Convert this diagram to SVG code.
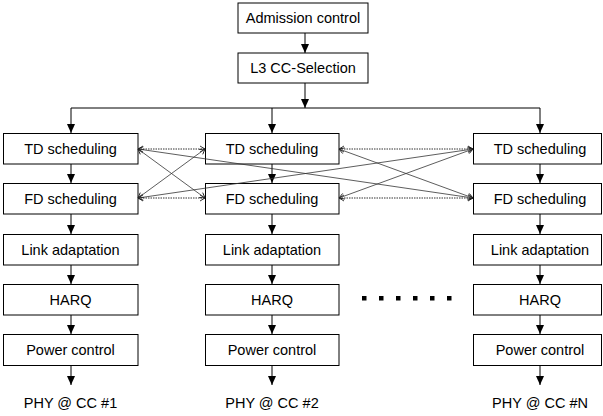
<svg xmlns="http://www.w3.org/2000/svg" width="603" height="416" viewBox="0 0 603 416">
<style>
.box rect{fill:#fff;stroke:#000;stroke-width:1}
text{font-family:"Liberation Sans",Arial,sans-serif;font-size:14.5px;fill:#000;text-anchor:middle}
.flow{stroke:#000;stroke-width:1;fill:none;marker-end:url(#ah)}
.x{stroke:#333;stroke-width:0.8;fill:none;marker-start:url(#ov);marker-end:url(#ov)}
.h{stroke-dasharray:1.5,1;stroke:#333;stroke-width:1}
</style>
<defs>
<marker id="ah" markerWidth="9" markerHeight="9" refX="9" refY="4.5" orient="auto" markerUnits="userSpaceOnUse"><path d="M0,0.5 L9,4.5 L0,8.5 Z" fill="#000"/></marker>
<marker id="ov" markerWidth="8" markerHeight="8" refX="6" refY="4" orient="auto-start-reverse" markerUnits="userSpaceOnUse"><path d="M1,1 L6,4 L1,7" fill="none" stroke="#222" stroke-width="0.9"/></marker>
</defs>
<g id="connectors">
<line class="flow" x1="305" y1="33" x2="305" y2="53"/>
<line class="flow" x1="305" y1="83" x2="305" y2="108"/>
<polyline points="71,108 540,108" fill="none" stroke="#000" stroke-width="1"/>
<line class="flow" x1="71" y1="108" x2="71" y2="133"/>
<line class="flow" x1="272" y1="108" x2="272" y2="133"/>
<line class="flow" x1="540" y1="108" x2="540" y2="133"/>
<g id="col-arrows">
<line class="flow" x1="71" y1="164" x2="71" y2="183"/>
<line class="flow" x1="71" y1="214" x2="71" y2="234"/>
<line class="flow" x1="71" y1="265" x2="71" y2="284"/>
<line class="flow" x1="71" y1="315" x2="71" y2="334"/>
<line class="flow" x1="71" y1="366" x2="71" y2="385"/>
<line class="flow" x1="272" y1="164" x2="272" y2="183"/>
<line class="flow" x1="272" y1="214" x2="272" y2="234"/>
<line class="flow" x1="272" y1="265" x2="272" y2="284"/>
<line class="flow" x1="272" y1="315" x2="272" y2="334"/>
<line class="flow" x1="272" y1="366" x2="272" y2="385"/>
<line class="flow" x1="540" y1="164" x2="540" y2="183"/>
<line class="flow" x1="540" y1="214" x2="540" y2="234"/>
<line class="flow" x1="540" y1="265" x2="540" y2="284"/>
<line class="flow" x1="540" y1="315" x2="540" y2="334"/>
<line class="flow" x1="540" y1="366" x2="540" y2="385"/>
</g>
</g>
<g id="boxes">
<g id="admission" class="box"><rect x="238" y="3" width="130" height="30"/><text x="303" y="23">Admission control</text></g>
<g id="l3" class="box"><rect x="238" y="53" width="130" height="30"/><text x="303" y="73">L3 CC-Selection</text></g>

<g id="td1" class="box"><rect x="3.5" y="133.5" width="134.5" height="30.5"/><text x="70.5" y="154">TD scheduling</text></g>
<g id="fd1" class="box"><rect x="3.5" y="183.5" width="134.5" height="30.5"/><text x="70.5" y="204">FD scheduling</text></g>
<g id="la1" class="box"><rect x="3.5" y="234.5" width="134.5" height="30.5"/><text x="70.5" y="255">Link adaptation</text></g>
<g id="harq1" class="box"><rect x="3.5" y="284.5" width="134.5" height="30.5"/><text x="70.5" y="305">HARQ</text></g>
<g id="pc1" class="box"><rect x="3.5" y="334.5" width="134.5" height="31"/><text x="70.5" y="355">Power control</text></g>

<g id="td2" class="box"><rect x="205.5" y="133.5" width="133.5" height="30.5"/><text x="272" y="154">TD scheduling</text></g>
<g id="fd2" class="box"><rect x="205.5" y="183.5" width="133.5" height="30.5"/><text x="272" y="204">FD scheduling</text></g>
<g id="la2" class="box"><rect x="205.5" y="234.5" width="133.5" height="30.5"/><text x="272" y="255">Link adaptation</text></g>
<g id="harq2" class="box"><rect x="205.5" y="284.5" width="133.5" height="30.5"/><text x="272" y="305">HARQ</text></g>
<g id="pc2" class="box"><rect x="205.5" y="334.5" width="133.5" height="31"/><text x="272" y="355">Power control</text></g>

<g id="tdn" class="box"><rect x="473.5" y="133.5" width="128" height="30.5"/><text x="540" y="154">TD scheduling</text></g>
<g id="fdn" class="box"><rect x="473.5" y="183.5" width="128" height="30.5"/><text x="540" y="204">FD scheduling</text></g>
<g id="lan" class="box"><rect x="473.5" y="234.5" width="128" height="30.5"/><text x="540" y="255">Link adaptation</text></g>
<g id="harqn" class="box"><rect x="473.5" y="284.5" width="128" height="30.5"/><text x="540" y="305">HARQ</text></g>
<g id="pcn" class="box"><rect x="473.5" y="334.5" width="128" height="31"/><text x="540" y="355">Power control</text></g>
</g>
<g id="cross-links">
<line class="x h" x1="138" y1="149" x2="205" y2="149"/>
<line class="x h" x1="138" y1="198" x2="205" y2="198"/>
<line class="x h" x1="339" y1="149" x2="473" y2="149"/>
<line class="x h" x1="339" y1="198" x2="473" y2="198"/>
<line class="x" x1="138" y1="149" x2="205" y2="198"/>
<line class="x" x1="138" y1="198" x2="205" y2="149"/>
<line class="x" x1="138" y1="149" x2="473" y2="198"/>
<line class="x" x1="138" y1="198" x2="473" y2="149"/>
<line class="x" x1="339" y1="149" x2="473" y2="198"/>
<line class="x" x1="339" y1="198" x2="473" y2="149"/>
</g>
<g id="ellipsis" fill="#000">
<rect x="362" y="296" width="4.5" height="4.5"/>
<rect x="379" y="296" width="4.5" height="4.5"/>
<rect x="396" y="296" width="4.5" height="4.5"/>
<rect x="413" y="296" width="4.5" height="4.5"/>
<rect x="430" y="296" width="4.5" height="4.5"/>
<rect x="447" y="296" width="4.5" height="4.5"/>
</g>
<g id="labels">
<text x="70.5" y="408">PHY @ CC #1</text>
<text x="272" y="408">PHY @ CC #2</text>
<text x="540" y="408">PHY @ CC #N</text>
</g>
</svg>
